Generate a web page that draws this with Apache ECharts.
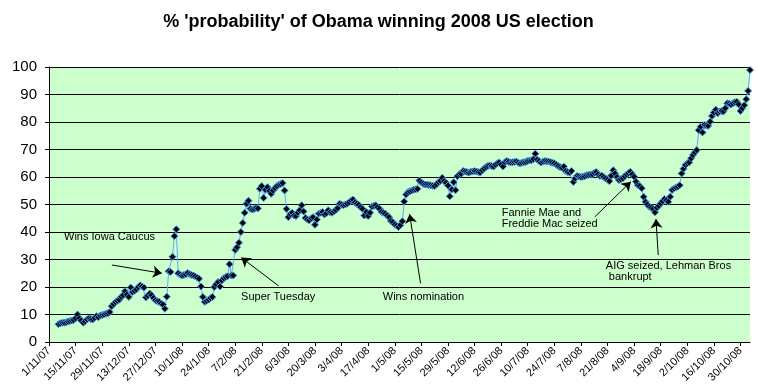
<!DOCTYPE html>
<html>
<head>
<meta charset="utf-8">
<script src="https://cdn.jsdelivr.net/npm/echarts@6/dist/echarts.min.js"></script>
<style>
html,body{margin:0;padding:0;background:#fff;}
#c{width:757px;height:392px;}
</style>
</head>
<body>
<div id="c"></div>
<script>
// Axis: days since 1 Nov 2007
const axisStart = Date.UTC(2007, 10, 1);
const axisMaxDay = 369;           // 4/11/08
const tickEveryDays = 14;
const firstDataDay = 5;           // first value is 6/11/07
const yTicks = [0,10,20,30,40,50,60,70,80,90,100];

// daily % probability values from firstDataDay onward
const values = [
  6.5, 6.8, 7.0, 7.0, 7.2, 7.4, 7.6, 7.8, 8.0, 8.6,
  10.0, 8.6, 7.8, 7.0, 7.5, 8.2, 8.6, 8.4, 8.2, 8.8,
  9.4, 9.0, 9.6, 9.8, 10.0, 10.3, 10.5, 10.9, 13.0, 13.8,
  14.5, 15.0, 15.4, 16.4, 17.0, 18.5, 17.2, 16.4, 19.8, 18.2,
  18.6, 19.1, 20.0, 20.6, 20.2, 19.8, 16.2, 16.8, 17.6, 17.0,
  16.0, 15.2, 14.8, 14.6, 14.0, 13.6, 12.1, 16.5, 25.7, 25.5,
  31.0, 38.5, 41.0, 25.0, 24.5, 24.2, 24.4, 24.6, 25.1, 24.6,
  24.4, 24.2, 23.8, 23.4, 23.0, 20.2, 16.4, 14.6, 15.0, 15.4,
  16.0, 16.4, 20.0, 21.0, 21.8, 20.2, 22.4, 23.2, 23.6, 23.9,
  28.3, 24.2, 24.2, 33.5, 34.5, 36.1, 40.0, 43.3, 47.0, 50.3,
  51.4, 48.5, 48.2, 48.4, 48.7, 48.6, 55.7, 56.7, 52.4, 55.4,
  56.3, 55.0, 53.9, 55.1, 56.0, 56.7, 57.2, 57.5, 57.8, 55.1,
  48.4, 45.4, 46.5, 47.0, 46.0, 45.8, 47.0, 47.9, 49.7, 47.5,
  45.1, 44.6, 44.2, 45.0, 45.4, 42.6, 44.5, 46.7, 47.0, 47.3,
  46.4, 46.8, 47.9, 47.2, 47.0, 47.5, 48.0, 48.7, 50.3, 50.0,
  49.7, 50.0, 50.3, 50.8, 51.5, 51.8, 50.7, 50.3, 49.9, 49.0,
  48.5, 46.0, 47.3, 45.8, 47.0, 49.3, 49.5, 49.7, 49.0, 48.5,
  47.3, 47.0, 46.7, 46.0, 45.4, 44.0, 43.6, 42.7, 42.3, 41.8,
  42.5, 43.9, 51.1, 53.6, 54.5, 54.8, 55.1, 55.4, 55.5, 55.7,
  58.7, 58.0, 57.5, 57.3, 57.2, 57.1, 57.0, 56.8, 56.7, 57.3,
  58.1, 58.6, 59.7, 58.5, 57.9, 56.9, 53.0, 55.5, 58.1, 55.2,
  60.3, 61.0, 61.2, 62.2, 62.0, 61.8, 61.6, 61.9, 62.0, 62.2,
  62.0, 61.8, 61.6, 62.4, 63.0, 63.6, 64.0, 64.2, 64.0, 63.8,
  64.5, 65.0, 65.3, 64.5, 63.8, 65.4, 65.8, 65.5, 65.3, 65.4,
  65.5, 65.6, 65.2, 65.0, 65.2, 65.4, 65.5, 65.8, 66.0, 66.1,
  66.5, 68.5, 66.3, 65.8, 65.3, 65.6, 65.8, 65.7, 65.6, 65.4,
  65.2, 65.0, 64.5, 64.0, 63.6, 63.4, 63.8, 62.2, 61.8, 61.6,
  62.2, 58.2, 59.5, 60.4, 60.2, 60.0, 60.1, 60.3, 60.6, 60.8,
  60.9, 61.0, 61.5, 61.8, 61.0, 60.4, 60.5, 60.0, 59.5, 59.0,
  58.5, 60.5, 62.5, 61.3, 60.0, 58.9, 59.2, 59.5, 60.2, 60.9,
  61.4, 61.9, 61.0, 60.1, 58.3, 57.0, 56.7, 55.9, 52.8, 51.0,
  50.0, 49.2, 48.8, 48.4, 47.2, 48.8, 49.5, 50.4, 51.2, 52.0,
  51.5, 51.0, 52.8, 55.3, 55.8, 56.2, 56.5, 57.0, 61.3, 63.0,
  64.4, 65.0, 65.3, 66.8, 68.0, 69.0, 69.8, 77.0, 78.3, 76.2,
  78.9, 78.7, 78.6, 80.1, 82.2, 83.5, 84.5, 83.2, 83.8, 84.0,
  83.8, 85.0, 86.8, 86.6, 86.4, 86.8, 87.2, 87.4, 86.4, 84.0,
  85.0, 86.1, 88.3, 91.3, 98.9
];

// annotation texts (anchored at [day, value]) and arrows ([fromDay, fromVal] -> [toDay, toVal])
const noteTexts = [
  { text: 'Wins Iowa Caucus', at: [7.9, 38.2] },
  { text: 'Super Tuesday', at: [101.1, 16.5] },
  { text: 'Wins nomination', at: [175.7, 16.4] },
  { text: 'Fannie Mae and\nFreddie Mac seized', at: [238.3, 45.1] },
  { text: 'AIG seized, Lehman Bros\n bankrupt', at: [293.1, 25.8] }
];
const noteArrows = [
  [[33.1, 28.0], [59.4, 25.0]],
  [[120.9, 20.4], [101.2, 30.7]],
  [[195.6, 21.3], [189.8, 46.5]],
  [[287.3, 45.5], [306.3, 58.3]],
  [[320.7, 31.6], [319.5, 44.7]]
];

function fmtDay(day) {
  const d = new Date(axisStart + day * 86400000);
  return d.getUTCDate() + '/' + (d.getUTCMonth() + 1) + '/' + String(d.getUTCFullYear()).slice(2);
}
const tickDays = [];
for (let t = 0; t <= axisMaxDay; t += tickEveryDays) tickDays.push(t);

const seriesData = values.map((v, i) => [firstDataDay + i, v]);

const chart = echarts.init(document.getElementById('c'), null, { renderer: 'canvas' });
const FONT = '"Liberation Sans", Arial, sans-serif';

chart.setOption({
  animation: false,
  backgroundColor: '#ffffff',
  title: {
    text: "% 'probability' of Obama winning 2008 US election",
    left: 'center', top: 8,
    textStyle: { fontFamily: FONT, fontSize: 18, fontWeight: 'bold', color: '#000' }
  },
  grid: { left: 49, right: 7, top: 67, bottom: 50, show: true, backgroundColor: '#ccffcc', borderWidth: 0 },
  xAxis: {
    type: 'value', min: 0, max: axisMaxDay, interval: tickEveryDays,
    axisLine: { show: true, onZero: false, lineStyle: { color: '#000', width: 1 } },
    axisTick: { show: true, length: 4, inside: false, customValues: tickDays, lineStyle: { color: '#000' } },
    splitLine: { show: false },
    axisLabel: {
      customValues: tickDays,
      rotate: 45, margin: 7, fontFamily: FONT, fontSize: 11, color: '#000',
      formatter: v => fmtDay(v)
    }
  },
  yAxis: {
    type: 'value', min: 0, max: 100, interval: 10,
    axisLine: { show: true, lineStyle: { color: '#000', width: 1 } },
    axisTick: { show: true, length: 4, lineStyle: { color: '#000' } },
    splitLine: { show: true, lineStyle: { color: '#000', width: 1 } },
    axisLabel: { fontFamily: FONT, fontSize: 15, color: '#000', margin: 12 }
  },
  series: [{
    type: 'line',
    data: seriesData,
    symbol: 'diamond',
    symbolSize: 7,
    showAllSymbol: true,
    lineStyle: { color: '#5fa8f5', width: 1 },
    itemStyle: { color: '#000000', borderColor: '#3f94f0', borderWidth: 1 },
    emphasis: { disabled: true },
    markLine: {
      silent: true,
      animation: false,
      label: { show: false },
      lineStyle: { color: '#000', width: 1, type: 'solid' },
      symbolSize: 9,
      data: noteArrows.map(a => [
        { coord: a[0], symbol: 'none' },
        { coord: a[1], symbol: 'arrow' }
      ])
    }
  }]
});

const texts = noteTexts.map(n => {
  const p = chart.convertToPixel({ gridIndex: 0 }, n.at);
  return {
    type: 'text', x: p[0], y: p[1], silent: true,
    style: {
      text: n.text, fill: '#000', font: '11px ' + FONT,
      textAlign: 'left', textVerticalAlign: 'middle', lineHeight: 11
    }
  };
});
chart.setOption({ graphic: texts });
</script>
</body>
</html>
